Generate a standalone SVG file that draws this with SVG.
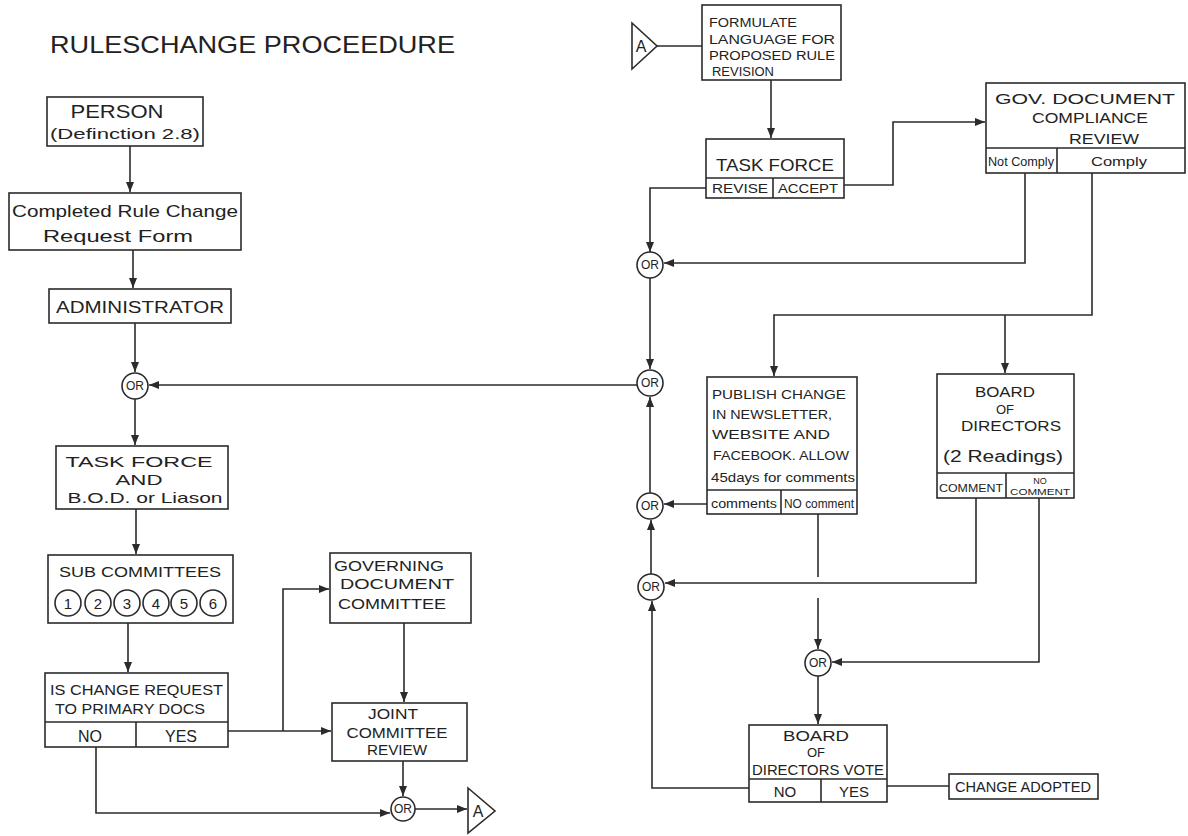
<svg xmlns="http://www.w3.org/2000/svg" width="1188" height="836" viewBox="0 0 1188 836">
<style>
.bx{fill:#fff;stroke:#2b2b2b;stroke-width:1.6}
.ln{fill:none;stroke:#2b2b2b;stroke-width:1.6}
.t{font-family:"Liberation Sans",Arial,sans-serif;fill:#222;text-anchor:middle}
.tl{font-family:"Liberation Sans",Arial,sans-serif;fill:#222;text-anchor:start}
.or{fill:#fff;stroke:#2b2b2b;stroke-width:1.6}
.ort{font-family:"Liberation Sans",Arial,sans-serif;fill:#222;text-anchor:middle;font-size:12px}
</style>
<defs>
<marker id="ah" viewBox="0 0 10 8" refX="10" refY="4" markerWidth="10" markerHeight="8" markerUnits="userSpaceOnUse" orient="auto">
<path d="M0,0 L10,4 L0,8 z" fill="#2b2b2b"/>
</marker>
</defs>
<rect width="1188" height="836" fill="#fff"/>
<text class="tl" x="50" y="53" font-size="24" fill="#333" textLength="405" lengthAdjust="spacingAndGlyphs">RULESCHANGE PROCEEDURE</text>

<g id="connectors">
<path class="ln" d="M130,146 V192" marker-end="url(#ah)"/>
<path class="ln" d="M133,250 V288" marker-end="url(#ah)"/>
<path class="ln" d="M135,323 V372" marker-end="url(#ah)"/>
<path class="ln" d="M637,385 H149" marker-end="url(#ah)"/>
<path class="ln" d="M135,399 V445" marker-end="url(#ah)"/>
<path class="ln" d="M136,509 V554" marker-end="url(#ah)"/>
<path class="ln" d="M128,623 V672" marker-end="url(#ah)"/>
<path class="ln" d="M228,731 H331" marker-end="url(#ah)"/>
<path class="ln" d="M283,731 V589 H329" marker-end="url(#ah)"/>
<path class="ln" d="M404,623 V702" marker-end="url(#ah)"/>
<path class="ln" d="M403,761 V796" marker-end="url(#ah)"/>
<path class="ln" d="M96,747 V813 H390" marker-end="url(#ah)"/>
<path class="ln" d="M415,809 H467" marker-end="url(#ah)"/>
<path class="ln" d="M657,46 H702"/>
<path class="ln" d="M771,80 V138" marker-end="url(#ah)"/>
<path class="ln" d="M844,185 H893 V122 H985" marker-end="url(#ah)"/>
<path class="ln" d="M706,188 H650 V252" marker-end="url(#ah)"/>
<path class="ln" d="M1025,173 V263 H664" marker-end="url(#ah)"/>
<path class="ln" d="M1092,173 V315 H774 V376" marker-end="url(#ah)"/>
<path class="ln" d="M1005,315 V373" marker-end="url(#ah)"/>
<path class="ln" d="M650,278 V369" marker-end="url(#ah)"/>
<path class="ln" d="M707,504 H664" marker-end="url(#ah)"/>
<path class="ln" d="M650,493 V397" marker-end="url(#ah)"/>
<path class="ln" d="M651,574 V520" marker-end="url(#ah)"/>
<path class="ln" d="M976,498 V583 H665" marker-end="url(#ah)"/>
<path class="ln" d="M818,514 V577"/>
<path class="ln" d="M818,598 V649" marker-end="url(#ah)"/>
<path class="ln" d="M1039,498 V662 H832" marker-end="url(#ah)"/>
<path class="ln" d="M818,676 V724" marker-end="url(#ah)"/>
<path class="ln" d="M749,788 H652 V601" marker-end="url(#ah)"/>
<path class="ln" d="M887,786 H949"/>
</g>

<g id="person">
<rect class="bx" x="47" y="97" width="156" height="49"/>
<text class="t" x="117" y="118" font-size="18" textLength="93" lengthAdjust="spacingAndGlyphs">PERSON</text>
<text class="t" x="125" y="139" font-size="15" textLength="150" lengthAdjust="spacingAndGlyphs">(Definction 2.8)</text>
</g>
<g id="request-form">
<rect class="bx" x="9" y="193" width="232" height="57"/>
<text class="t" x="125" y="217" font-size="17" textLength="226" lengthAdjust="spacingAndGlyphs">Completed Rule Change</text>
<text class="t" x="118" y="242" font-size="17" textLength="150" lengthAdjust="spacingAndGlyphs">Request Form</text>
</g>
<g id="administrator">
<rect class="bx" x="49" y="289" width="182" height="34"/>
<text class="t" x="140" y="313" font-size="16" textLength="168" lengthAdjust="spacingAndGlyphs">ADMINISTRATOR</text>
</g>
<g id="or-a">
<circle class="or" cx="135" cy="386" r="13"/>
<text class="ort" x="135" y="390">OR</text>
</g>
<g id="taskforce-bod">
<rect class="bx" x="56" y="446" width="172" height="63"/>
<text class="t" x="139" y="467" font-size="15" textLength="147" lengthAdjust="spacingAndGlyphs">TASK FORCE</text>
<text class="t" x="139" y="485" font-size="15" textLength="47" lengthAdjust="spacingAndGlyphs">AND</text>
<text class="t" x="145" y="503" font-size="15" textLength="155" lengthAdjust="spacingAndGlyphs">B.O.D. or Liason</text>
</g>
<g id="subcommittees">
<rect class="bx" x="48" y="555" width="185" height="68"/>
<text class="t" x="140" y="577" font-size="15" textLength="162" lengthAdjust="spacingAndGlyphs">SUB COMMITTEES</text>
<circle class="or" cx="68" cy="603" r="13"/><text class="t" x="68" y="609" font-size="15">1</text>
<circle class="or" cx="98" cy="603" r="13"/><text class="t" x="98" y="609" font-size="15">2</text>
<circle class="or" cx="127" cy="603" r="13"/><text class="t" x="127" y="609" font-size="15">3</text>
<circle class="or" cx="156" cy="603" r="13"/><text class="t" x="156" y="609" font-size="15">4</text>
<circle class="or" cx="184" cy="603" r="13"/><text class="t" x="184" y="609" font-size="15">5</text>
<circle class="or" cx="213" cy="603" r="13"/><text class="t" x="213" y="609" font-size="15">6</text>
</g>
<g id="primary-docs">
<rect class="bx" x="45" y="673" width="183" height="74"/>
<path class="ln" d="M45,722 H228 M136,722 V747"/>
<text class="tl" x="50" y="695" font-size="14" textLength="173" lengthAdjust="spacingAndGlyphs">IS CHANGE REQUEST</text>
<text class="tl" x="55" y="714" font-size="14" textLength="150" lengthAdjust="spacingAndGlyphs">TO PRIMARY DOCS</text>
<text class="t" x="90" y="742" font-size="16">NO</text>
<text class="t" x="181" y="742" font-size="16">YES</text>
</g>
<g id="governing-doc">
<rect class="bx" x="330" y="553" width="141" height="70"/>
<text class="tl" x="334" y="571" font-size="14" textLength="110" lengthAdjust="spacingAndGlyphs">GOVERNING</text>
<text class="tl" x="340" y="589" font-size="14" textLength="114" lengthAdjust="spacingAndGlyphs">DOCUMENT</text>
<text class="tl" x="338" y="609" font-size="14" textLength="108" lengthAdjust="spacingAndGlyphs">COMMITTEE</text>
</g>
<g id="joint-review">
<rect class="bx" x="332" y="703" width="135" height="58"/>
<text class="t" x="393" y="719" font-size="14" textLength="50" lengthAdjust="spacingAndGlyphs">JOINT</text>
<text class="t" x="397" y="738" font-size="14" textLength="101" lengthAdjust="spacingAndGlyphs">COMMITTEE</text>
<text class="t" x="397" y="755" font-size="14" textLength="60" lengthAdjust="spacingAndGlyphs">REVIEW</text>
</g>
<g id="or-b">
<circle class="or" cx="403" cy="809" r="12"/>
<text class="ort" x="403" y="813">OR</text>
</g>
<g id="connector-a-out">
<path class="bx" d="M468,788 L495,811 L468,833 z"/>
<text class="t" x="478" y="817" font-size="16">A</text>
</g>

<g id="connector-a-in">
<path class="bx" d="M632,23 L657,46 L632,69 z"/>
<text class="t" x="641" y="52" font-size="16">A</text>
</g>
<g id="formulate">
<rect class="bx" x="702" y="5" width="139" height="75"/>
<text class="tl" x="709" y="27" font-size="12" textLength="88" lengthAdjust="spacingAndGlyphs">FORMULATE</text>
<text class="tl" x="709" y="44" font-size="12" textLength="126" lengthAdjust="spacingAndGlyphs">LANGUAGE FOR</text>
<text class="tl" x="709" y="60" font-size="12" textLength="126" lengthAdjust="spacingAndGlyphs">PROPOSED RULE</text>
<text class="tl" x="712" y="76" font-size="12" textLength="62" lengthAdjust="spacingAndGlyphs">REVISION</text>
</g>
<g id="taskforce">
<rect class="bx" x="706" y="139" width="138" height="59"/>
<path class="ln" d="M706,178 H844 M773,178 V198"/>
<text class="t" x="775" y="171" font-size="17" textLength="118" lengthAdjust="spacingAndGlyphs">TASK FORCE</text>
<text class="t" x="740" y="193" font-size="12" textLength="56" lengthAdjust="spacingAndGlyphs">REVISE</text>
<text class="t" x="808" y="193" font-size="12" textLength="60" lengthAdjust="spacingAndGlyphs">ACCEPT</text>
</g>
<g id="gov-compliance">
<rect class="bx" x="986" y="83" width="199" height="90"/>
<path class="ln" d="M986,148 H1185 M1057,148 V173"/>
<text class="t" x="1085" y="104" font-size="14" textLength="180" lengthAdjust="spacingAndGlyphs">GOV. DOCUMENT</text>
<text class="t" x="1090" y="123" font-size="14" textLength="116" lengthAdjust="spacingAndGlyphs">COMPLIANCE</text>
<text class="t" x="1104" y="144" font-size="14" textLength="70" lengthAdjust="spacingAndGlyphs">REVIEW</text>
<text class="t" x="1021" y="166" font-size="12" textLength="66" lengthAdjust="spacingAndGlyphs">Not Comply</text>
<text class="t" x="1119" y="166" font-size="12" textLength="56" lengthAdjust="spacingAndGlyphs">Comply</text>
</g>
<g id="or-c">
<circle class="or" cx="650" cy="265" r="13"/>
<text class="ort" x="650" y="269">OR</text>
</g>
<g id="or-d">
<circle class="or" cx="650" cy="383" r="13"/>
<text class="ort" x="650" y="387">OR</text>
</g>
<g id="publish">
<rect class="bx" x="707" y="377" width="150" height="137"/>
<path class="ln" d="M707,490 H857 M781,490 V514"/>
<text class="tl" x="712" y="399" font-size="13" textLength="134" lengthAdjust="spacingAndGlyphs">PUBLISH CHANGE</text>
<text class="tl" x="712" y="419" font-size="13" textLength="120" lengthAdjust="spacingAndGlyphs">IN NEWSLETTER,</text>
<text class="tl" x="712" y="439" font-size="13" textLength="118" lengthAdjust="spacingAndGlyphs">WEBSITE AND</text>
<text class="tl" x="713" y="460" font-size="13" textLength="136" lengthAdjust="spacingAndGlyphs">FACEBOOK. ALLOW</text>
<text class="tl" x="711" y="482" font-size="13" textLength="144" lengthAdjust="spacingAndGlyphs">45days for comments</text>
<text class="t" x="744" y="508" font-size="12" textLength="66" lengthAdjust="spacingAndGlyphs">comments</text>
<text class="t" x="819" y="508" font-size="12" textLength="70" lengthAdjust="spacingAndGlyphs">NO comment</text>
</g>
<g id="board-readings">
<rect class="bx" x="937" y="374" width="137" height="124"/>
<path class="ln" d="M937,473 H1074 M1006,473 V498"/>
<text class="t" x="1005" y="397" font-size="14" textLength="60" lengthAdjust="spacingAndGlyphs">BOARD</text>
<text class="t" x="1005" y="414" font-size="13">OF</text>
<text class="t" x="1011" y="431" font-size="14" textLength="100" lengthAdjust="spacingAndGlyphs">DIRECTORS</text>
<text class="t" x="1003" y="462" font-size="16" textLength="120" lengthAdjust="spacingAndGlyphs">(2 Readings)</text>
<text class="t" x="971" y="492" font-size="11" textLength="64" lengthAdjust="spacingAndGlyphs">COMMENT</text>
<text class="t" x="1040" y="484" font-size="9">NO</text>
<text class="t" x="1040" y="495" font-size="9" textLength="60" lengthAdjust="spacingAndGlyphs">COMMENT</text>
</g>
<g id="or-e">
<circle class="or" cx="650" cy="506" r="13"/>
<text class="ort" x="650" y="510">OR</text>
</g>
<g id="or-f">
<circle class="or" cx="651" cy="587" r="13"/>
<text class="ort" x="651" y="591">OR</text>
</g>
<g id="or-g">
<circle class="or" cx="818" cy="663" r="13"/>
<text class="ort" x="818" y="667">OR</text>
</g>
<g id="board-vote">
<rect class="bx" x="749" y="725" width="138" height="77"/>
<path class="ln" d="M749,779 H887 M821,779 V802"/>
<text class="t" x="816" y="741" font-size="14" textLength="66" lengthAdjust="spacingAndGlyphs">BOARD</text>
<text class="t" x="816" y="757" font-size="13">OF</text>
<text class="t" x="818" y="775" font-size="14" textLength="132" lengthAdjust="spacingAndGlyphs">DIRECTORS VOTE</text>
<text class="t" x="785" y="797" font-size="15">NO</text>
<text class="t" x="854" y="797" font-size="15">YES</text>
</g>
<g id="change-adopted">
<rect class="bx" x="949" y="774" width="149" height="25"/>
<text class="t" x="1023" y="792" font-size="14" textLength="136" lengthAdjust="spacingAndGlyphs">CHANGE ADOPTED</text>
</g>
</svg>
